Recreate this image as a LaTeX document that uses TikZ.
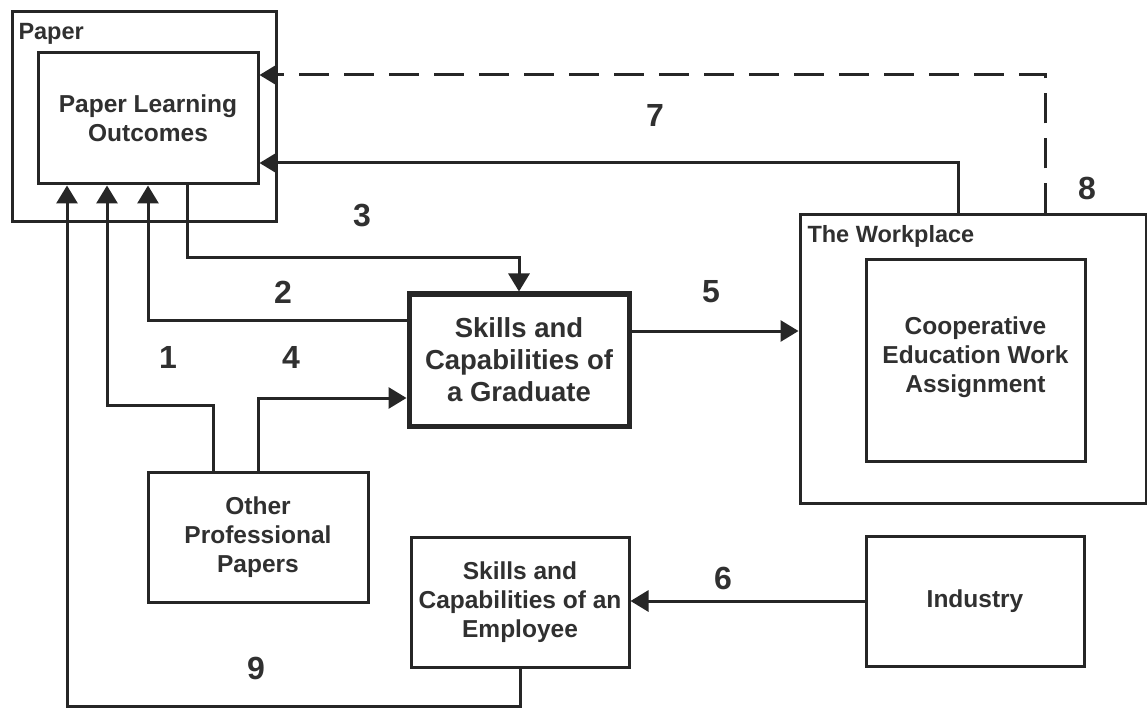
\documentclass[tikz,border=0pt]{standalone}
\usepackage{fontspec}
\setmainfont{Liberation Sans}
\usetikzlibrary{arrows.meta}
\definecolor{ink}{HTML}{262626}
\definecolor{txt}{HTML}{303030}
\begin{document}
\begin{tikzpicture}[x=1pt,y=-1pt,
  line width=3pt, draw=ink,
  box/.style={draw=ink, rectangle, inner sep=0pt, align=center, text=txt,
    font=\fontsize{24.5}{29}\selectfont\bfseries},
  frame/.style={draw=ink, rectangle, inner sep=0pt},
  framelbl/.style={inner sep=0pt, text=txt, font=\fontsize{23.5}{28}\selectfont\bfseries},
  num/.style={inner sep=0pt, text=txt, font=\fontsize{32}{32}\selectfont\bfseries},
  arr/.style={draw=ink, line width=3pt, -{Triangle[length=18pt,width=21pt]}},
  dashlink/.style={arr, dash pattern=on 30pt off 15pt}
]
\useasboundingbox[fill=white] (0,0) rectangle (1147,708);

% Paper frame with its learning outcomes
\node[frame, minimum width=264pt, minimum height=210pt] (paper) at (144,117) {};
\node[framelbl, anchor=base west] (paperlbl) at (17,40) {Paper};
\node[box, minimum width=220pt, minimum height=131pt] (plo) at (148,118.5)
  {Paper Learning\\Outcomes};

% Central graduate box
\node[box, line width=5pt, minimum width=220pt, minimum height=132pt,
  font=\fontsize{27.5}{32}\selectfont\bfseries] (grad) at (519,360)
  {Skills and\\Capabilities of\\a Graduate};

% Workplace frame with the work assignment
\node[frame, minimum width=346pt, minimum height=288pt] (work) at (973,359) {};
\node[framelbl, anchor=base west] (worklbl) at (806,243) {The Workplace};
\node[box, minimum width=219pt, minimum height=201pt] (coop) at (975.5,360.5) {};
\node[inner sep=0pt, align=center, text=txt,
  font=\fontsize{24.5}{29}\selectfont\bfseries] (cooptxt) at (975.5,357)
  {Cooperative\\Education Work\\Assignment};

% Lower boxes
\node[box, minimum width=220pt, minimum height=130pt] (other) at (258,537)
  {Other\\Professional\\Papers};
\node[box, minimum width=218pt, minimum height=130pt] (emp) at (520,602)
  {Skills and\\Capabilities of an\\Employee};
\node[box, minimum width=218pt, minimum height=130pt] (ind) at (975,601)
  {Industry};

% Connectors
\draw[arr] ([xshift=-45pt]other.north) -- ++(0,-65) -| ([xshift=-41pt]plo.south);
\draw[arr] ([yshift=40pt]grad.west) -| (plo.south);
\draw[arr] ([xshift=39pt]plo.south) -- ++(0,72) -| (grad.north);
\draw[arr] (other.north) |- ([yshift=-38pt]grad.west);
\draw[arr] ([yshift=29pt]grad.east) -- ([yshift=29pt]grad.east -| work.west);
\draw[arr] (ind.west) -- (ind.west -| emp.east);
\draw[arr] ([xshift=-15pt]work.north) |- ([yshift=-44.5pt]plo.east);
\draw[dashlink] ([xshift=72pt]work.north) |- ([yshift=43.5pt]plo.east);
\draw[arr] (emp.south) -- ++(0,38) -| ([xshift=-81pt]plo.south);

% Flow numbers
\node[num] (n1) at (168,357) {1};
\node[num] (n2) at (283,292) {2};
\node[num] (n3) at (362,216) {3};
\node[num] (n4) at (291,357) {4};
\node[num] (n5) at (711,292) {5};
\node[num] (n6) at (723,578) {6};
\node[num] (n7) at (655,115) {7};
\node[num] (n8) at (1087,188) {8};
\node[num] (n9) at (256,668) {9};
\end{tikzpicture}
\end{document}
